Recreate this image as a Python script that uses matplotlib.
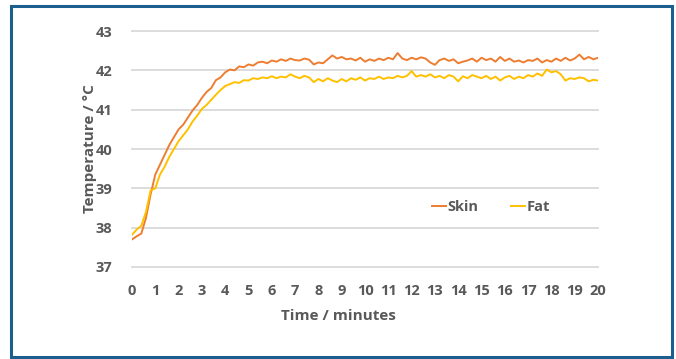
import matplotlib
matplotlib.use("Agg")
import matplotlib.pyplot as plt
import numpy as np
from matplotlib.patches import Rectangle

# temperatures, one value every 0.2 minutes
skin = [37.70, 37.78, 37.85, 38.25, 38.85, 39.35, 39.60, 39.85, 40.10, 40.30,
        40.50, 40.62, 40.80, 40.98, 41.12, 41.30, 41.45, 41.55, 41.75, 41.82,
        41.95, 42.02, 42.00, 42.10, 42.08, 42.15, 42.12, 42.20, 42.22, 42.18,
        42.25, 42.22, 42.28, 42.24, 42.30, 42.26, 42.25, 42.30, 42.27, 42.15,
        42.20, 42.18, 42.28, 42.38, 42.30, 42.34, 42.28, 42.30, 42.25, 42.32,
        42.22, 42.28, 42.24, 42.30, 42.26, 42.32, 42.28, 42.44, 42.30, 42.26,
        42.32, 42.28, 42.33, 42.30, 42.20, 42.14, 42.26, 42.30, 42.24, 42.28,
        42.18, 42.22, 42.25, 42.30, 42.22, 42.32, 42.26, 42.30, 42.22, 42.34,
        42.24, 42.30, 42.22, 42.25, 42.20, 42.26, 42.24, 42.30, 42.20, 42.26,
        42.22, 42.30, 42.24, 42.32, 42.25, 42.30, 42.40, 42.28, 42.34, 42.28,
        42.32]
fat = [37.82, 37.95, 38.05, 38.40, 38.95, 39.00, 39.35, 39.55, 39.80, 40.00,
       40.20, 40.35, 40.50, 40.70, 40.85, 41.02, 41.12, 41.25, 41.38, 41.50,
       41.60, 41.65, 41.70, 41.68, 41.75, 41.74, 41.80, 41.78, 41.82, 41.80,
       41.85, 41.80, 41.84, 41.82, 41.90, 41.84, 41.80, 41.86, 41.82, 41.70,
       41.78, 41.72, 41.80, 41.74, 41.70, 41.78, 41.72, 41.80, 41.76, 41.82,
       41.74, 41.80, 41.78, 41.84, 41.78, 41.82, 41.80, 41.86, 41.82, 41.86,
       41.98, 41.84, 41.88, 41.84, 41.90, 41.82, 41.86, 41.80, 41.88, 41.84,
       41.72, 41.85, 41.80, 41.88, 41.84, 41.80, 41.86, 41.78, 41.84, 41.74,
       41.82, 41.86, 41.78, 41.84, 41.80, 41.88, 41.84, 41.92, 41.86, 42.02,
       41.95, 41.98, 41.90, 41.74, 41.80, 41.78, 41.82, 41.80, 41.72, 41.76,
       41.74]
xticks = list(range(0, 21))
yticks = [37, 38, 39, 40, 41, 42, 43]

t = np.linspace(0, 20, len(skin))

grey = "#595959"
font = ["Open Sans", "DejaVu Sans"]

fig = plt.figure(figsize=(6.76, 3.59), dpi=100)
ax = fig.add_axes([132/676, 1 - 267/359, 466/676, 236/359])

ax.plot(t, skin, color="#ED7D31", lw=1.4, label="Skin")
ax.plot(t, fat, color="#FFC000", lw=1.4, label="Fat")

ax.set_xlim(0, 20)
ax.set_ylim(37, 43)
ax.set_xticks(xticks)
ax.set_yticks(yticks)
ax.tick_params(length=0, colors=grey, labelsize=10.5)
ax.tick_params(axis="x", pad=12)
ax.tick_params(axis="y", pad=14)
for lab in ax.get_xticklabels() + ax.get_yticklabels():
    lab.set_family(font)
    lab.set_fontweight("bold")
for s in ax.spines.values():
    s.set_visible(False)
ax.yaxis.grid(True, color="#D9D9D9", lw=1.3)
for gl in ax.get_ygridlines():
    gl.set_clip_on(False)
ax.set_axisbelow(True)

ax.set_xlabel("Time / minutes", family=font, fontweight="bold", color=grey,
              fontsize=11)
ax.set_ylabel("Temperature / °C", family=font, fontweight="bold", color=grey,
              fontsize=11)
ax.xaxis.set_label_coords(0.444, -0.18)
ax.yaxis.set_label_coords(-0.075, 0.5)

leg = ax.legend(loc="center", bbox_to_anchor=(0.77, 0.253), ncol=2, frameon=False,
                handlelength=1.0, handletextpad=0.1, columnspacing=2.2,
                prop={"family": font, "weight": "bold", "size": 10.5})
for txt in leg.get_texts():
    txt.set_color(grey)

# dark blue frame round the whole picture
fig.patches.append(Rectangle((11/676, 2/359), 661/676, 351/359, transform=fig.transFigure,
                             fill=False, edgecolor="#1C5F8E", lw=2.2))

fig.savefig("out.png", dpi=100)
